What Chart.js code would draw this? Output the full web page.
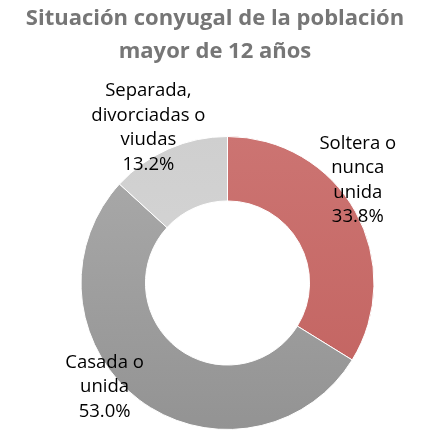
<!DOCTYPE html>
<html>
<head>
<meta charset="utf-8">
<script src="https://cdn.jsdelivr.net/npm/chart.js@4.4.0/dist/chart.umd.min.js"></script>
<style>
  html, body { margin: 0; padding: 0; background: #fff; overflow: hidden; }
  #wrap { width: 423px; height: 430px; position: relative; }
</style>
</head>
<body>
<div id="wrap"><canvas id="chart"></canvas></div>
<script>
const titleLines = ['Situación conyugal de la población', 'mayor de 12 años'];
const categories = [
  ['Soltera o', 'nunca', 'unida'],
  ['Casada o', 'unida'],
  ['Separada,', 'divorciadas o', 'viudas']
];
const shares = [33.8, 53.0, 13.2];
const percentLabels = ['33.8%', '53.0%', '13.2%'];

// label nudges from the arc's mid-angle point (px)
const labelNudge = [[-13, -23], [-24, -27], [-13, -5]];

const titlePlugin = {
  id: 'titleText',
  afterDraw(chart){
    const ctx = chart.ctx;
    ctx.save();
    ctx.fillStyle = '#767676';
    ctx.font = 'bold 22px "Open Sans"';
    ctx.textAlign = 'center';
    ctx.textBaseline = 'middle';
    ctx.fillText(titleLines[0], 215, 19);
    ctx.fillText(titleLines[1], 215, 52);
    ctx.restore();
  }
};

const labelPlugin = {
  id: 'sliceLabels',
  afterDatasetsDraw(chart){
    const ctx = chart.ctx;
    const arcs = chart.getDatasetMeta(0).data;
    ctx.save();
    ctx.fillStyle = '#000';
    ctx.font = '18.5px "Open Sans"';
    ctx.textAlign = 'center';
    ctx.textBaseline = 'middle';
    arcs.forEach((arc, i) => {
      const mid = (arc.startAngle + arc.endAngle) / 2;
      const r = arc.outerRadius * 1.12;
      const cx = arc.x + Math.cos(mid) * r + labelNudge[i][0];
      const cy = arc.y + Math.sin(mid) * r + labelNudge[i][1];
      const lines = categories[i].concat([percentLabels[i]]);
      const lh = 24.5;
      lines.forEach((t, k) => {
        ctx.fillText(t, cx, cy + (k - (lines.length - 1) / 2) * lh);
      });
    });
    ctx.restore();
  }
};

function sliceFill(context){
  const chart = context.chart;
  const area = chart.chartArea;
  if (!area) return '#aaa';
  const stops = [
    ['#cc7472', '#c2625f'],
    ['#ababab', '#939393'],
    ['#cfcfcf', '#dadada']
  ][context.dataIndex];
  const g = chart.ctx.createLinearGradient(0, area.top, 0, area.bottom);
  g.addColorStop(0, stops[0]);
  g.addColorStop(1, stops[1]);
  return g;
}

new Chart(document.getElementById('chart').getContext('2d'), {
  type: 'doughnut',
  data: {
    labels: categories.map(c => c.join(' ')),
    datasets: [{
      data: shares,
      backgroundColor: sliceFill,
      borderColor: '#ffffff',
      borderWidth: 1
    }]
  },
  options: {
    responsive: true,
    maintainAspectRatio: false,
    animation: false,
    cutout: '56%',
    layout: {padding: {top: 136, left: 80, right: 48, bottom: 0}},
    plugins: {
      legend: {display: false},
      tooltip: {enabled: false},
      title: {display: false}
    }
  },
  plugins: [titlePlugin, labelPlugin]
});
</script>
</body>
</html>
